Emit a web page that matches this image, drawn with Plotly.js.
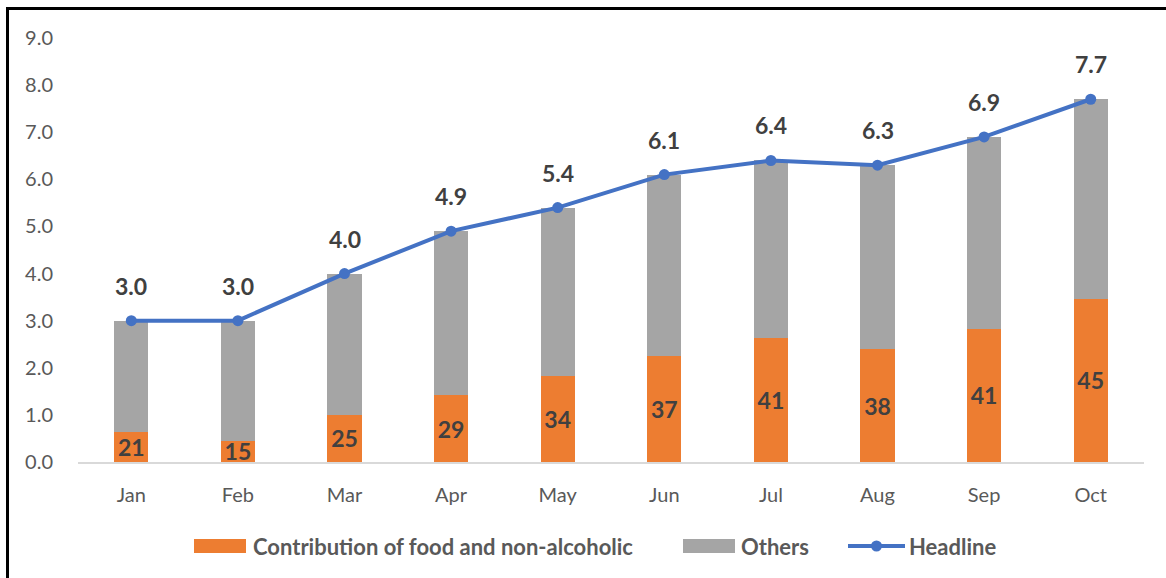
<!DOCTYPE html>
<html>
<head>
<meta charset="utf-8">
<script src="https://cdn.plot.ly/plotly-3.0.1.min.js"></script>
<style>
  html, body { margin: 0; padding: 0; background: #fff; }
  #wrap { position: relative; width: 1166px; height: 578px; overflow: hidden; }
  #chart { position: absolute; left: 0; top: 0; width: 1166px; height: 578px; }
  #frame { position: absolute; left: 6px; top: 7px; width: 1170px; height: 580px;
           border-left: 3px solid #000; border-top: 3px solid #000; pointer-events: none; }
</style>
</head>
<body>
<div id="wrap">
  <div id="chart"></div>
  <div id="frame"></div>
</div>
<script>
// Monthly headline inflation (%) and share of food & non-alcoholic beverages (%)
const months = ['Jan', 'Feb', 'Mar', 'Apr', 'May', 'Jun', 'Jul', 'Aug', 'Sep', 'Oct'];
const headline = [3.0, 3.0, 4.0, 4.9, 5.4, 6.1, 6.4, 6.3, 6.9, 7.7];
const foodShare = [21, 15, 25, 29, 34, 37, 41, 38, 41, 45];
const seriesNames = ['Contribution of food and non-alcoholic', 'Others', 'Headline'];

// Split the headline into the food contribution and the remainder
const foodPart = headline.map((h, i) => h * foodShare[i] / 100);
const othersPart = headline.map((h, i) => h - foodPart[i]);

const FONT = 'Lato, "Open Sans", "DejaVu Sans", sans-serif';
const DARK = '#404040';
const GREY_TXT = '#595959';
const C_FOOD = '#ED7D31', C_OTHER = '#A5A5A5', C_HEAD = '#4472C4';

const W = 1166, H = 578;
const M = { l: 78, r: 22, t: 38, b: 116 };
const plotW = W - M.l - M.r, plotH = H - M.t - M.b;
// pixel -> paper helpers for the legend block under the plot
const px = v => (v - M.l) / plotW;
const py = v => (H - M.b - v) / plotH;

const traces = [
  {
    type: 'bar', name: seriesNames[0],
    x: months, y: foodPart,
    marker: { color: C_FOOD },
    text: foodShare.map(String),
    textposition: 'inside', insidetextanchor: 'middle', textangle: 0,
    constraintext: 'none', cliponaxis: false,
    textfont: { family: FONT, size: 23, color: DARK, weight: 'bold' },
    hoverinfo: 'skip'
  },
  {
    type: 'bar', name: seriesNames[1],
    x: months, y: othersPart,
    marker: { color: C_OTHER },
    hoverinfo: 'skip'
  },
  {
    type: 'scatter', mode: 'lines+markers', name: seriesNames[2],
    x: months, y: headline,
    line: { color: C_HEAD, width: 4 },
    marker: { color: C_HEAD, size: 11 },
    cliponaxis: false,
    hoverinfo: 'skip'
  }
];

// headline value labels above the line
const annotations = headline.map((h, i) => ({
  x: months[i], y: h, xref: 'x', yref: 'y',
  text: h.toFixed(1), showarrow: false,
  yanchor: 'middle', yshift: 35,
  font: { family: FONT, size: 23, color: DARK, weight: 'bold' }
}));

// legend: wide swatches like a spreadsheet chart legend
const legendY = 546;
const legendFont = { family: FONT, size: 22, color: GREY_TXT, weight: 'bold' };
const shapes = [
  { type: 'rect', xref: 'paper', yref: 'paper', line: { width: 0 }, fillcolor: C_FOOD,
    x0: px(194), x1: px(246), y0: py(legendY + 7), y1: py(legendY - 7) },
  { type: 'rect', xref: 'paper', yref: 'paper', line: { width: 0 }, fillcolor: C_OTHER,
    x0: px(683), x1: px(735), y0: py(legendY + 7), y1: py(legendY - 7) },
  { type: 'line', xref: 'paper', yref: 'paper', line: { color: C_HEAD, width: 4 },
    x0: px(848), x1: px(905), y0: py(legendY), y1: py(legendY) },
  { type: 'circle', xref: 'paper', yref: 'paper', line: { width: 0 }, fillcolor: C_HEAD,
    x0: px(871), x1: px(882), y0: py(legendY + 5.5), y1: py(legendY - 5.5) }
];
[[251, 0], [739, 1], [907, 2]].forEach(([left, k]) => {
  annotations.push({
    xref: 'paper', yref: 'paper', x: px(left), y: py(legendY),
    xanchor: 'left', yanchor: 'middle', showarrow: false,
    text: seriesNames[k], font: legendFont
  });
});

const layout = {
  width: W, height: H,
  margin: M,
  paper_bgcolor: '#fff', plot_bgcolor: '#fff',
  barmode: 'stack', bargap: 0.68,
  showlegend: false,
  xaxis: {
    type: 'category', range: [-0.5, 9.5],
    showline: true, linecolor: '#D9D9D9', linewidth: 2,
    showgrid: false, zeroline: false, ticks: '',
    ticklabelstandoff: 14,
    tickfont: { family: FONT, size: 20, color: GREY_TXT }
  },
  yaxis: {
    range: [0, 9], dtick: 1, tickformat: '.1f',
    showgrid: false, zeroline: false, showline: false, ticks: '',
    ticklabelstandoff: 24,
    tickfont: { family: FONT, size: 20, color: GREY_TXT }
  },
  shapes: shapes,
  annotations: annotations
};

Plotly.newPlot('chart', traces, layout, { staticPlot: true, displayModeBar: false });
</script>
</body>
</html>
